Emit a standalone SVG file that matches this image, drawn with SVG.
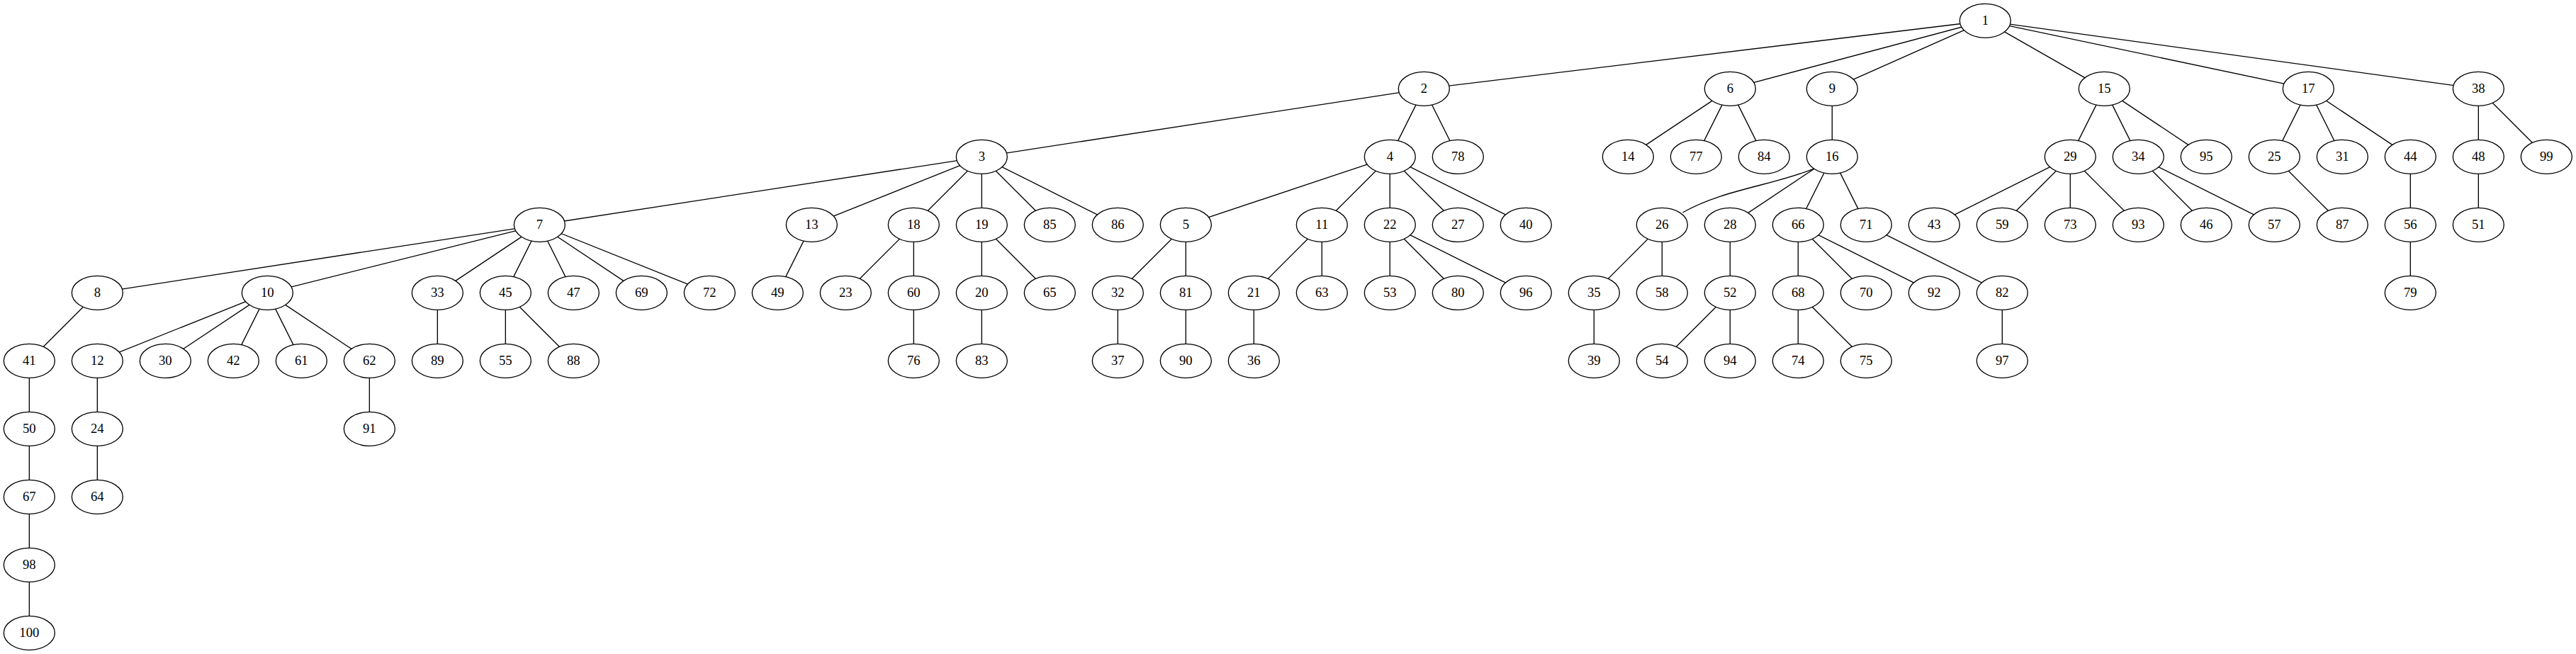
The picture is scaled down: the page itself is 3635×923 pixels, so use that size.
<svg xmlns="http://www.w3.org/2000/svg" width="3635" height="923" viewBox="0 0 3635 923">
<style>
.n ellipse{fill:#fff;stroke:#000;stroke-width:1.333}
.n text{font-family:"Liberation Serif","Times New Roman",serif;font-size:18.667px;text-anchor:middle;fill:#000}
#edges line,#edges path{stroke:#000;stroke-width:1.333;fill:none}
</style>
<rect x="0" y="0" width="3635" height="923" fill="#fff"/>
<g transform="translate(41.333 29.333)">
<g id="edges">
<line x1="2760" y1="0" x2="1968" y2="96"/>
<line x1="2760" y1="0" x2="2400" y2="96"/>
<line x1="2760" y1="0" x2="2544" y2="96"/>
<line x1="2760" y1="0" x2="2928" y2="96"/>
<line x1="2760" y1="0" x2="3216" y2="96"/>
<line x1="2760" y1="0" x2="3456" y2="96"/>
<line x1="1968" y1="96" x2="1344" y2="192"/>
<line x1="1968" y1="96" x2="1920" y2="192"/>
<line x1="1968" y1="96" x2="2016" y2="192"/>
<line x1="2400" y1="96" x2="2256" y2="192"/>
<line x1="2400" y1="96" x2="2352" y2="192"/>
<line x1="2400" y1="96" x2="2448" y2="192"/>
<line x1="2544" y1="96" x2="2544" y2="192"/>
<line x1="2928" y1="96" x2="2880" y2="192"/>
<line x1="2928" y1="96" x2="2976" y2="192"/>
<line x1="2928" y1="96" x2="3072" y2="192"/>
<line x1="3216" y1="96" x2="3168" y2="192"/>
<line x1="3216" y1="96" x2="3264" y2="192"/>
<line x1="3216" y1="96" x2="3360" y2="192"/>
<line x1="3456" y1="96" x2="3456" y2="192"/>
<line x1="3456" y1="96" x2="3552" y2="192"/>
<line x1="1344" y1="192" x2="720" y2="288"/>
<line x1="1344" y1="192" x2="1104" y2="288"/>
<line x1="1344" y1="192" x2="1248" y2="288"/>
<line x1="1344" y1="192" x2="1344" y2="288"/>
<line x1="1344" y1="192" x2="1440" y2="288"/>
<line x1="1344" y1="192" x2="1536" y2="288"/>
<line x1="1920" y1="192" x2="1632" y2="288"/>
<line x1="1920" y1="192" x2="1824" y2="288"/>
<line x1="1920" y1="192" x2="1920" y2="288"/>
<line x1="1920" y1="192" x2="2016" y2="288"/>
<line x1="1920" y1="192" x2="2112" y2="288"/>
<path d="M2517.7,209 C2458.7,232.7 2388.7,238.7 2333,270.7"/>
<line x1="2544" y1="192" x2="2400" y2="288"/>
<line x1="2544" y1="192" x2="2496" y2="288"/>
<line x1="2544" y1="192" x2="2592" y2="288"/>
<line x1="2880" y1="192" x2="2688" y2="288"/>
<line x1="2880" y1="192" x2="2784" y2="288"/>
<line x1="2880" y1="192" x2="2880" y2="288"/>
<line x1="2880" y1="192" x2="2976" y2="288"/>
<line x1="2976" y1="192" x2="3072" y2="288"/>
<line x1="2976" y1="192" x2="3168" y2="288"/>
<line x1="3168" y1="192" x2="3264" y2="288"/>
<line x1="3360" y1="192" x2="3360" y2="288"/>
<line x1="3456" y1="192" x2="3456" y2="288"/>
<line x1="720" y1="288" x2="96" y2="384"/>
<line x1="720" y1="288" x2="336" y2="384"/>
<line x1="720" y1="288" x2="576" y2="384"/>
<line x1="720" y1="288" x2="672" y2="384"/>
<line x1="720" y1="288" x2="768" y2="384"/>
<line x1="720" y1="288" x2="864" y2="384"/>
<line x1="720" y1="288" x2="960" y2="384"/>
<line x1="1104" y1="288" x2="1056" y2="384"/>
<line x1="1248" y1="288" x2="1152" y2="384"/>
<line x1="1248" y1="288" x2="1248" y2="384"/>
<line x1="1344" y1="288" x2="1344" y2="384"/>
<line x1="1344" y1="288" x2="1440" y2="384"/>
<line x1="1632" y1="288" x2="1536" y2="384"/>
<line x1="1632" y1="288" x2="1632" y2="384"/>
<line x1="1824" y1="288" x2="1728" y2="384"/>
<line x1="1824" y1="288" x2="1824" y2="384"/>
<line x1="1920" y1="288" x2="1920" y2="384"/>
<line x1="1920" y1="288" x2="2016" y2="384"/>
<line x1="1920" y1="288" x2="2112" y2="384"/>
<line x1="2304" y1="288" x2="2208" y2="384"/>
<line x1="2304" y1="288" x2="2304" y2="384"/>
<line x1="2400" y1="288" x2="2400" y2="384"/>
<line x1="2496" y1="288" x2="2496" y2="384"/>
<line x1="2496" y1="288" x2="2592" y2="384"/>
<line x1="2496" y1="288" x2="2688" y2="384"/>
<line x1="2592" y1="288" x2="2784" y2="384"/>
<line x1="3360" y1="288" x2="3360" y2="384"/>
<line x1="96" y1="384" x2="0" y2="480"/>
<line x1="336" y1="384" x2="96" y2="480"/>
<line x1="336" y1="384" x2="192" y2="480"/>
<line x1="336" y1="384" x2="288" y2="480"/>
<line x1="336" y1="384" x2="384" y2="480"/>
<line x1="336" y1="384" x2="480" y2="480"/>
<line x1="576" y1="384" x2="576" y2="480"/>
<line x1="672" y1="384" x2="672" y2="480"/>
<line x1="672" y1="384" x2="768" y2="480"/>
<line x1="1248" y1="384" x2="1248" y2="480"/>
<line x1="1344" y1="384" x2="1344" y2="480"/>
<line x1="1536" y1="384" x2="1536" y2="480"/>
<line x1="1632" y1="384" x2="1632" y2="480"/>
<line x1="1728" y1="384" x2="1728" y2="480"/>
<line x1="2208" y1="384" x2="2208" y2="480"/>
<line x1="2400" y1="384" x2="2304" y2="480"/>
<line x1="2400" y1="384" x2="2400" y2="480"/>
<line x1="2496" y1="384" x2="2496" y2="480"/>
<line x1="2496" y1="384" x2="2592" y2="480"/>
<line x1="2784" y1="384" x2="2784" y2="480"/>
<line x1="0" y1="480" x2="0" y2="576"/>
<line x1="96" y1="480" x2="96" y2="576"/>
<line x1="480" y1="480" x2="480" y2="576"/>
<line x1="0" y1="576" x2="0" y2="672"/>
<line x1="96" y1="576" x2="96" y2="672"/>
<line x1="0" y1="672" x2="0" y2="768"/>
<line x1="0" y1="768" x2="0" y2="864"/>
</g>
<g id="n1" class="n"><ellipse cx="2760" cy="0" rx="36" ry="24"/><text x="2760" y="5.6">1</text></g>
<g id="n2" class="n"><ellipse cx="1968" cy="96" rx="36" ry="24"/><text x="1968" y="101.6">2</text></g>
<g id="n6" class="n"><ellipse cx="2400" cy="96" rx="36" ry="24"/><text x="2400" y="101.6">6</text></g>
<g id="n9" class="n"><ellipse cx="2544" cy="96" rx="36" ry="24"/><text x="2544" y="101.6">9</text></g>
<g id="n15" class="n"><ellipse cx="2928" cy="96" rx="36" ry="24"/><text x="2928" y="101.6">15</text></g>
<g id="n17" class="n"><ellipse cx="3216" cy="96" rx="36" ry="24"/><text x="3216" y="101.6">17</text></g>
<g id="n38" class="n"><ellipse cx="3456" cy="96" rx="36" ry="24"/><text x="3456" y="101.6">38</text></g>
<g id="n3" class="n"><ellipse cx="1344" cy="192" rx="36" ry="24"/><text x="1344" y="197.6">3</text></g>
<g id="n4" class="n"><ellipse cx="1920" cy="192" rx="36" ry="24"/><text x="1920" y="197.6">4</text></g>
<g id="n78" class="n"><ellipse cx="2016" cy="192" rx="36" ry="24"/><text x="2016" y="197.6">78</text></g>
<g id="n14" class="n"><ellipse cx="2256" cy="192" rx="36" ry="24"/><text x="2256" y="197.6">14</text></g>
<g id="n77" class="n"><ellipse cx="2352" cy="192" rx="36" ry="24"/><text x="2352" y="197.6">77</text></g>
<g id="n84" class="n"><ellipse cx="2448" cy="192" rx="36" ry="24"/><text x="2448" y="197.6">84</text></g>
<g id="n16" class="n"><ellipse cx="2544" cy="192" rx="36" ry="24"/><text x="2544" y="197.6">16</text></g>
<g id="n29" class="n"><ellipse cx="2880" cy="192" rx="36" ry="24"/><text x="2880" y="197.6">29</text></g>
<g id="n34" class="n"><ellipse cx="2976" cy="192" rx="36" ry="24"/><text x="2976" y="197.6">34</text></g>
<g id="n95" class="n"><ellipse cx="3072" cy="192" rx="36" ry="24"/><text x="3072" y="197.6">95</text></g>
<g id="n25" class="n"><ellipse cx="3168" cy="192" rx="36" ry="24"/><text x="3168" y="197.6">25</text></g>
<g id="n31" class="n"><ellipse cx="3264" cy="192" rx="36" ry="24"/><text x="3264" y="197.6">31</text></g>
<g id="n44" class="n"><ellipse cx="3360" cy="192" rx="36" ry="24"/><text x="3360" y="197.6">44</text></g>
<g id="n48" class="n"><ellipse cx="3456" cy="192" rx="36" ry="24"/><text x="3456" y="197.6">48</text></g>
<g id="n99" class="n"><ellipse cx="3552" cy="192" rx="36" ry="24"/><text x="3552" y="197.6">99</text></g>
<g id="n7" class="n"><ellipse cx="720" cy="288" rx="36" ry="24"/><text x="720" y="293.6">7</text></g>
<g id="n13" class="n"><ellipse cx="1104" cy="288" rx="36" ry="24"/><text x="1104" y="293.6">13</text></g>
<g id="n18" class="n"><ellipse cx="1248" cy="288" rx="36" ry="24"/><text x="1248" y="293.6">18</text></g>
<g id="n19" class="n"><ellipse cx="1344" cy="288" rx="36" ry="24"/><text x="1344" y="293.6">19</text></g>
<g id="n85" class="n"><ellipse cx="1440" cy="288" rx="36" ry="24"/><text x="1440" y="293.6">85</text></g>
<g id="n86" class="n"><ellipse cx="1536" cy="288" rx="36" ry="24"/><text x="1536" y="293.6">86</text></g>
<g id="n5" class="n"><ellipse cx="1632" cy="288" rx="36" ry="24"/><text x="1632" y="293.6">5</text></g>
<g id="n11" class="n"><ellipse cx="1824" cy="288" rx="36" ry="24"/><text x="1824" y="293.6">11</text></g>
<g id="n22" class="n"><ellipse cx="1920" cy="288" rx="36" ry="24"/><text x="1920" y="293.6">22</text></g>
<g id="n27" class="n"><ellipse cx="2016" cy="288" rx="36" ry="24"/><text x="2016" y="293.6">27</text></g>
<g id="n40" class="n"><ellipse cx="2112" cy="288" rx="36" ry="24"/><text x="2112" y="293.6">40</text></g>
<g id="n26" class="n"><ellipse cx="2304" cy="288" rx="36" ry="24"/><text x="2304" y="293.6">26</text></g>
<g id="n28" class="n"><ellipse cx="2400" cy="288" rx="36" ry="24"/><text x="2400" y="293.6">28</text></g>
<g id="n66" class="n"><ellipse cx="2496" cy="288" rx="36" ry="24"/><text x="2496" y="293.6">66</text></g>
<g id="n71" class="n"><ellipse cx="2592" cy="288" rx="36" ry="24"/><text x="2592" y="293.6">71</text></g>
<g id="n43" class="n"><ellipse cx="2688" cy="288" rx="36" ry="24"/><text x="2688" y="293.6">43</text></g>
<g id="n59" class="n"><ellipse cx="2784" cy="288" rx="36" ry="24"/><text x="2784" y="293.6">59</text></g>
<g id="n73" class="n"><ellipse cx="2880" cy="288" rx="36" ry="24"/><text x="2880" y="293.6">73</text></g>
<g id="n93" class="n"><ellipse cx="2976" cy="288" rx="36" ry="24"/><text x="2976" y="293.6">93</text></g>
<g id="n46" class="n"><ellipse cx="3072" cy="288" rx="36" ry="24"/><text x="3072" y="293.6">46</text></g>
<g id="n57" class="n"><ellipse cx="3168" cy="288" rx="36" ry="24"/><text x="3168" y="293.6">57</text></g>
<g id="n87" class="n"><ellipse cx="3264" cy="288" rx="36" ry="24"/><text x="3264" y="293.6">87</text></g>
<g id="n56" class="n"><ellipse cx="3360" cy="288" rx="36" ry="24"/><text x="3360" y="293.6">56</text></g>
<g id="n51" class="n"><ellipse cx="3456" cy="288" rx="36" ry="24"/><text x="3456" y="293.6">51</text></g>
<g id="n8" class="n"><ellipse cx="96" cy="384" rx="36" ry="24"/><text x="96" y="389.6">8</text></g>
<g id="n10" class="n"><ellipse cx="336" cy="384" rx="36" ry="24"/><text x="336" y="389.6">10</text></g>
<g id="n33" class="n"><ellipse cx="576" cy="384" rx="36" ry="24"/><text x="576" y="389.6">33</text></g>
<g id="n45" class="n"><ellipse cx="672" cy="384" rx="36" ry="24"/><text x="672" y="389.6">45</text></g>
<g id="n47" class="n"><ellipse cx="768" cy="384" rx="36" ry="24"/><text x="768" y="389.6">47</text></g>
<g id="n69" class="n"><ellipse cx="864" cy="384" rx="36" ry="24"/><text x="864" y="389.6">69</text></g>
<g id="n72" class="n"><ellipse cx="960" cy="384" rx="36" ry="24"/><text x="960" y="389.6">72</text></g>
<g id="n49" class="n"><ellipse cx="1056" cy="384" rx="36" ry="24"/><text x="1056" y="389.6">49</text></g>
<g id="n23" class="n"><ellipse cx="1152" cy="384" rx="36" ry="24"/><text x="1152" y="389.6">23</text></g>
<g id="n60" class="n"><ellipse cx="1248" cy="384" rx="36" ry="24"/><text x="1248" y="389.6">60</text></g>
<g id="n20" class="n"><ellipse cx="1344" cy="384" rx="36" ry="24"/><text x="1344" y="389.6">20</text></g>
<g id="n65" class="n"><ellipse cx="1440" cy="384" rx="36" ry="24"/><text x="1440" y="389.6">65</text></g>
<g id="n32" class="n"><ellipse cx="1536" cy="384" rx="36" ry="24"/><text x="1536" y="389.6">32</text></g>
<g id="n81" class="n"><ellipse cx="1632" cy="384" rx="36" ry="24"/><text x="1632" y="389.6">81</text></g>
<g id="n21" class="n"><ellipse cx="1728" cy="384" rx="36" ry="24"/><text x="1728" y="389.6">21</text></g>
<g id="n63" class="n"><ellipse cx="1824" cy="384" rx="36" ry="24"/><text x="1824" y="389.6">63</text></g>
<g id="n53" class="n"><ellipse cx="1920" cy="384" rx="36" ry="24"/><text x="1920" y="389.6">53</text></g>
<g id="n80" class="n"><ellipse cx="2016" cy="384" rx="36" ry="24"/><text x="2016" y="389.6">80</text></g>
<g id="n96" class="n"><ellipse cx="2112" cy="384" rx="36" ry="24"/><text x="2112" y="389.6">96</text></g>
<g id="n35" class="n"><ellipse cx="2208" cy="384" rx="36" ry="24"/><text x="2208" y="389.6">35</text></g>
<g id="n58" class="n"><ellipse cx="2304" cy="384" rx="36" ry="24"/><text x="2304" y="389.6">58</text></g>
<g id="n52" class="n"><ellipse cx="2400" cy="384" rx="36" ry="24"/><text x="2400" y="389.6">52</text></g>
<g id="n68" class="n"><ellipse cx="2496" cy="384" rx="36" ry="24"/><text x="2496" y="389.6">68</text></g>
<g id="n70" class="n"><ellipse cx="2592" cy="384" rx="36" ry="24"/><text x="2592" y="389.6">70</text></g>
<g id="n92" class="n"><ellipse cx="2688" cy="384" rx="36" ry="24"/><text x="2688" y="389.6">92</text></g>
<g id="n82" class="n"><ellipse cx="2784" cy="384" rx="36" ry="24"/><text x="2784" y="389.6">82</text></g>
<g id="n79" class="n"><ellipse cx="3360" cy="384" rx="36" ry="24"/><text x="3360" y="389.6">79</text></g>
<g id="n41" class="n"><ellipse cx="0" cy="480" rx="36" ry="24"/><text x="0" y="485.6">41</text></g>
<g id="n12" class="n"><ellipse cx="96" cy="480" rx="36" ry="24"/><text x="96" y="485.6">12</text></g>
<g id="n30" class="n"><ellipse cx="192" cy="480" rx="36" ry="24"/><text x="192" y="485.6">30</text></g>
<g id="n42" class="n"><ellipse cx="288" cy="480" rx="36" ry="24"/><text x="288" y="485.6">42</text></g>
<g id="n61" class="n"><ellipse cx="384" cy="480" rx="36" ry="24"/><text x="384" y="485.6">61</text></g>
<g id="n62" class="n"><ellipse cx="480" cy="480" rx="36" ry="24"/><text x="480" y="485.6">62</text></g>
<g id="n89" class="n"><ellipse cx="576" cy="480" rx="36" ry="24"/><text x="576" y="485.6">89</text></g>
<g id="n55" class="n"><ellipse cx="672" cy="480" rx="36" ry="24"/><text x="672" y="485.6">55</text></g>
<g id="n88" class="n"><ellipse cx="768" cy="480" rx="36" ry="24"/><text x="768" y="485.6">88</text></g>
<g id="n76" class="n"><ellipse cx="1248" cy="480" rx="36" ry="24"/><text x="1248" y="485.6">76</text></g>
<g id="n83" class="n"><ellipse cx="1344" cy="480" rx="36" ry="24"/><text x="1344" y="485.6">83</text></g>
<g id="n37" class="n"><ellipse cx="1536" cy="480" rx="36" ry="24"/><text x="1536" y="485.6">37</text></g>
<g id="n90" class="n"><ellipse cx="1632" cy="480" rx="36" ry="24"/><text x="1632" y="485.6">90</text></g>
<g id="n36" class="n"><ellipse cx="1728" cy="480" rx="36" ry="24"/><text x="1728" y="485.6">36</text></g>
<g id="n39" class="n"><ellipse cx="2208" cy="480" rx="36" ry="24"/><text x="2208" y="485.6">39</text></g>
<g id="n54" class="n"><ellipse cx="2304" cy="480" rx="36" ry="24"/><text x="2304" y="485.6">54</text></g>
<g id="n94" class="n"><ellipse cx="2400" cy="480" rx="36" ry="24"/><text x="2400" y="485.6">94</text></g>
<g id="n74" class="n"><ellipse cx="2496" cy="480" rx="36" ry="24"/><text x="2496" y="485.6">74</text></g>
<g id="n75" class="n"><ellipse cx="2592" cy="480" rx="36" ry="24"/><text x="2592" y="485.6">75</text></g>
<g id="n97" class="n"><ellipse cx="2784" cy="480" rx="36" ry="24"/><text x="2784" y="485.6">97</text></g>
<g id="n50" class="n"><ellipse cx="0" cy="576" rx="36" ry="24"/><text x="0" y="581.6">50</text></g>
<g id="n24" class="n"><ellipse cx="96" cy="576" rx="36" ry="24"/><text x="96" y="581.6">24</text></g>
<g id="n91" class="n"><ellipse cx="480" cy="576" rx="36" ry="24"/><text x="480" y="581.6">91</text></g>
<g id="n67" class="n"><ellipse cx="0" cy="672" rx="36" ry="24"/><text x="0" y="677.6">67</text></g>
<g id="n64" class="n"><ellipse cx="96" cy="672" rx="36" ry="24"/><text x="96" y="677.6">64</text></g>
<g id="n98" class="n"><ellipse cx="0" cy="768" rx="36" ry="24"/><text x="0" y="773.6">98</text></g>
<g id="n100" class="n"><ellipse cx="0" cy="864" rx="36" ry="24"/><text x="0" y="869.6">100</text></g>
</g>
</svg>
